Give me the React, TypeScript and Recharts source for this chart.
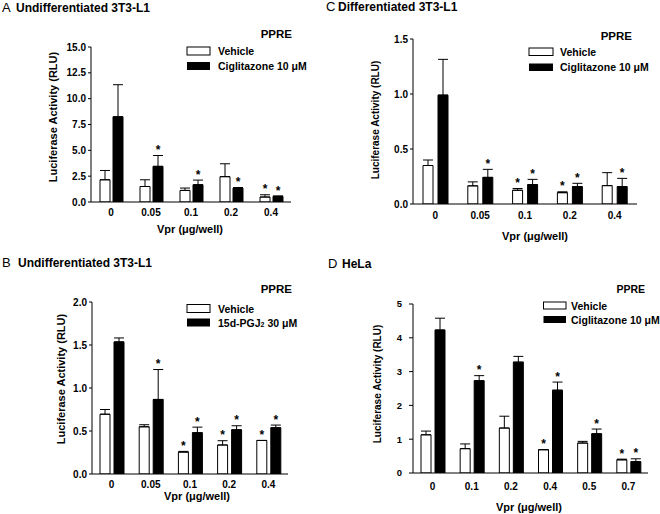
import React from 'react';
import { BarChart, Bar, XAxis, YAxis, ErrorBar, LabelList } from 'recharts';

const FONT = '"Liberation Sans", Arial, Helvetica, sans-serif';

// A - undifferentiated 3T3-L1, ciglitazone
const catsA = ['0', '0.05', '0.1', '0.2', '0.4'];
const vehA = [2.15, 1.5, 1.12, 2.45, 0.48];
const vehErrA = [0.9, 0.65, 0.23, 1.25, 0.22];
const vehStarA = [false, false, false, false, true];
const trtA = [8.25, 3.45, 1.67, 1.35, 0.55];
const trtErrA = [3.1, 1.05, 0.45, 0.05, 0.03];
const trtStarA = [false, true, true, true, true];

// B - undifferentiated 3T3-L1, 15d-PGJ2
const catsB = ['0', '0.05', '0.1', '0.2', '0.4'];
const vehB = [0.695, 0.549, 0.255, 0.337, 0.39];
const vehErrB = [0.055, 0.024, 0.008, 0.05, 0];
const vehStarB = [false, false, true, true, true];
const trtB = [1.536, 0.867, 0.48, 0.514, 0.538];
const trtErrB = [0.046, 0.348, 0.065, 0.047, 0.031];
const trtStarB = [false, true, true, true, true];

// C - differentiated 3T3-L1
const catsC = ['0', '0.05', '0.1', '0.2', '0.4'];
const vehC = [0.35, 0.165, 0.125, 0.103, 0.167];
const vehErrC = [0.05, 0.036, 0.016, 0.008, 0.118];
const vehStarC = [false, false, true, true, false];
const trtC = [0.99, 0.242, 0.176, 0.158, 0.158];
const trtErrC = [0.325, 0.073, 0.048, 0.03, 0.075];
const trtStarC = [false, true, true, true, true];

// D - HeLa
const catsD = ['0', '0.1', '0.2', '0.4', '0.5', '0.7'];
const vehD = [1.13, 0.72, 1.33, 0.69, 0.886, 0.39];
const vehErrD = [0.11, 0.14, 0.35, 0, 0.05, 0.02];
const vehStarD = [false, false, false, true, false, true];
const trtD = [4.23, 2.73, 3.28, 2.45, 1.16, 0.335];
const trtErrD = [0.35, 0.15, 0.17, 0.24, 0.14, 0.085];
const trtStarD = [false, true, false, true, true, true];

const ticksA = [0, 2.5, 5, 7.5, 10, 12.5, 15];
const ticksB = [0, 0.5, 1, 1.5, 2];
const ticksC = [0, 0.5, 1, 1.5];
const ticksD = [0, 1, 2, 3, 4, 5];

function rows(cats: string[], veh: number[], vehErr: number[], vehStar: boolean[], trt: number[], trtErr: number[], trtStar: boolean[]) {
  return cats.map((c, i) => ({
    c,
    veh: veh[i],
    vehE: [0, vehErr[i]],
    vehS: vehStar[i] ? vehErr[i] / veh[i] : null,
    trt: trt[i],
    trtE: [0, trtErr[i]],
    trtS: trtStar[i] ? trtErr[i] / trt[i] : null,
  }));
}

// asterisk sits just above the error bar cap
const Star = (props: any) => {
  const { value } = props;
  if (value == null) return null;
  const vb = props.viewBox ?? props;
  const cx = vb.x + vb.width / 2;
  const capY = vb.y - value * vb.height;
  return (
    <text x={cx} y={capY - 1.5} textAnchor="middle" fontFamily={FONT} fontWeight="bold" fontSize={12} fill="#000">
      *
    </text>
  );
};

const panels = [
  {
    id: 'A', left: 0, top: 0, w: 330, h: 250,
    margin: { top: 47, right: 39, bottom: 18, left: 51 },
    data: rows(catsA, vehA, vehErrA, vehStarA, trtA, trtErrA, trtStarA),
    ticks: ticksA, fmt: (v: number) => v.toFixed(1),
    barSize: 10, barGap: 3, xTick: 5, yTick: 3, yMargin: 2, tickFont: 10,
  },
  {
    id: 'B', left: 0, top: 250, w: 330, h: 264,
    margin: { top: 52, right: 42, bottom: 10, left: 52 },
    data: rows(catsB, vehB, vehErrB, vehStarB, trtB, trtErrB, trtStarB),
    ticks: ticksB, fmt: (v: number) => v.toFixed(1),
    barSize: 10, barGap: 4, xTick: 5, yTick: 3, yMargin: 2, tickFont: 10,
  },
  {
    id: 'C', left: 330, top: 0, w: 330, h: 250,
    margin: { top: 39, right: 23, bottom: 16, left: 43 },
    data: rows(catsC, vehC, vehErrC, vehStarC, trtC, trtErrC, trtStarC),
    ticks: ticksC, fmt: (v: number) => v.toFixed(1),
    barSize: 10, barGap: 5, xTick: 6, yTick: 3, yMargin: 2, tickFont: 10,
  },
  {
    id: 'D', left: 330, top: 250, w: 330, h: 264,
    margin: { top: 54, right: 12, bottom: 11, left: 43 },
    data: rows(catsD, vehD, vehErrD, vehStarD, trtD, trtErrD, trtStarD),
    ticks: ticksD, fmt: (v: number) => String(v),
    barSize: 10, barGap: 4, xTick: 8, yTick: 4, yMargin: 7, tickFont: 9.5,
  },
];

const titles = [
  { letter: 'A', lx: 2, text: 'Undifferentiated 3T3-L1', tx: 16, y: 12 },
  { letter: 'B', lx: 2, text: 'Undifferentiated 3T3-L1', tx: 18, y: 267 },
  { letter: 'C', lx: 326, text: 'Differentiated 3T3-L1', tx: 338, y: 11 },
  { letter: 'D', lx: 328, text: 'HeLa', tx: 342, y: 268 },
];

const xLabels = [
  { x: 190, y: 233 }, { x: 197, y: 500 }, { x: 535, y: 240 }, { x: 529, y: 511 },
];
const yLabels = [
  { x: 53, y: 117, size: 11 }, { x: 61, y: 379, size: 11 }, { x: 375, y: 120, size: 10 }, { x: 377, y: 384, size: 10 },
];

const legends = [
  { ppreX: 292, ppreY: 38, ppreSize: 11.5, bx: 187, bw: 23, y1: 47, y2: 62, bh: 8, tx: 218, names: ['Vehicle', 'Ciglitazone 10 μM'] },
  { ppreX: 292, ppreY: 293, ppreSize: 11.5, bx: 187, bw: 23, y1: 304.5, y2: 318.5, bh: 8, tx: 218, names: ['Vehicle', '15d-PGJ2 30 μM'] },
  { ppreX: 632, ppreY: 40, ppreSize: 11.5, bx: 529, bw: 24, y1: 48, y2: 63.5, bh: 7.5, tx: 560, names: ['Vehicle', 'Ciglitazone 10 μM'] },
  { ppreX: 645, ppreY: 293, ppreSize: 10.5, bx: 543.5, bw: 22.5, y1: 302, y2: 316, bh: 7, tx: 571, names: ['Vehicle', 'Ciglitazone 10 μM'] },
];

function LegendName({ name, x, y }: { name: string; x: number; y: number }) {
  // 15d-PGJ2 has a small subscript 2
  if (name.startsWith('15d-PGJ2')) {
    return (
      <text x={x} y={y} fontFamily={FONT} fontWeight="bold" fontSize={10.5}>
        15d-PGJ<tspan fontSize={7}>2</tspan> 30 μM
      </text>
    );
  }
  return (
    <text x={x} y={y} fontFamily={FONT} fontWeight="bold" fontSize={10.5}>
      {name}
    </text>
  );
}

export default function App() {
  return (
    <div style={{ position: 'absolute', left: 0, top: 0, width: 660, height: 514, background: '#fff', overflow: 'hidden' }}>
      {panels.map((p) => (
        <div key={p.id} style={{ position: 'absolute', left: p.left, top: p.top }}>
          <BarChart width={p.w} height={p.h} data={p.data} margin={p.margin} barSize={p.barSize} barGap={p.barGap}>
            <XAxis
              dataKey="c" height={30} tickLine={false} tickSize={p.xTick} tickMargin={2}
              axisLine={{ stroke: '#000', strokeWidth: 1 }}
              tick={{ fill: '#000', fontSize: 10, fontWeight: 'bold', fontFamily: FONT }}
              interval={0}
            />
            <YAxis
              width={40} domain={[0, p.ticks[p.ticks.length - 1]]} ticks={p.ticks} tickFormatter={p.fmt}
              tickSize={p.yTick} tickMargin={p.yMargin} allowDataOverflow
              axisLine={{ stroke: '#000', strokeWidth: 1 }} tickLine={{ stroke: '#000', strokeWidth: 1 }}
              tick={{ fill: '#000', fontSize: p.tickFont, fontWeight: 'bold', fontFamily: FONT }}
            />
            <Bar dataKey="veh" name="Vehicle" fill="#fff" stroke="#000" strokeWidth={1} isAnimationActive={false}>
              <ErrorBar dataKey="vehE" width={5} stroke="#000" strokeWidth={1} direction="y" />
              <LabelList dataKey="vehS" content={Star} />
            </Bar>
            <Bar dataKey="trt" name="Treatment" fill="#000" stroke="#000" strokeWidth={1} isAnimationActive={false}>
              <ErrorBar dataKey="trtE" width={5} stroke="#000" strokeWidth={1} direction="y" />
              <LabelList dataKey="trtS" content={Star} />
            </Bar>
          </BarChart>
        </div>
      ))}
      <svg width={660} height={514} style={{ position: 'absolute', left: 0, top: 0, pointerEvents: 'none' }}>
        {titles.map((t) => (
          <g key={t.letter}>
            <text x={t.lx} y={t.y} fontFamily={FONT} fontSize={13}>{t.letter}</text>
            <text x={t.tx} y={t.y} fontFamily={FONT} fontSize={12} fontWeight="bold">{t.text}</text>
          </g>
        ))}
        {xLabels.map((l, i) => (
          <text key={i} x={l.x} y={l.y} textAnchor="middle" fontFamily={FONT} fontSize={11} fontWeight="bold">
            Vpr (μg/well)
          </text>
        ))}
        {yLabels.map((l, i) => (
          <text
            key={i} x={l.x} y={l.y} textAnchor="middle" dominantBaseline="central"
            transform={`rotate(-90 ${l.x} ${l.y})`} fontFamily={FONT} fontSize={l.size} fontWeight="bold"
          >
            Luciferase Activity (RLU)
          </text>
        ))}
        {legends.map((g, i) => (
          <g key={i}>
            <text x={g.ppreX} y={g.ppreY} textAnchor="end" fontFamily={FONT} fontSize={g.ppreSize} fontWeight="bold">PPRE</text>
            <rect x={g.bx} y={g.y1} width={g.bw} height={g.bh} fill="#fff" stroke="#000" strokeWidth={1} />
            <rect x={g.bx} y={g.y2} width={g.bw} height={g.bh} fill="#000" />
            <LegendName name={g.names[0]} x={g.tx} y={g.y1 + g.bh / 2 + 4} />
            <LegendName name={g.names[1]} x={g.tx} y={g.y2 + g.bh / 2 + 4} />
          </g>
        ))}
      </svg>
    </div>
  );
}
